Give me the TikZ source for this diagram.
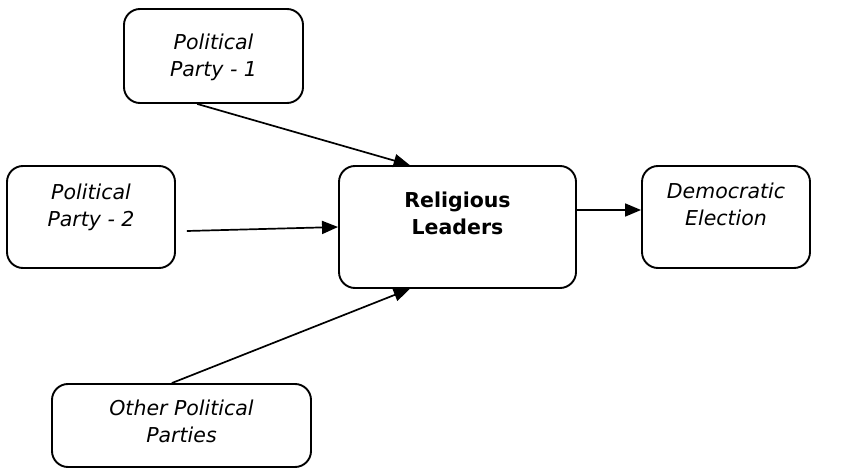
\documentclass[tikz,border=0pt]{standalone}
\usepackage{fontspec}
\setmainfont{DejaVu Sans}
\usetikzlibrary{arrows.meta, positioning, calc}

\begin{document}
\begin{tikzpicture}[x=1pt, y=-1pt,
    box/.style={draw, line width=1.9pt, rounded corners=16pt, align=center,
      font=\fontsize{20.5}{27}\selectfont\itshape, inner sep=0pt},
    flow/.style={-{Triangle[length=16pt, width=13pt]}, line width=1.7pt},
    lift/.style={text depth=#1}]
  \useasboundingbox (0,0) rectangle (850,470);

  % Partidos
  \node[box, minimum width=179pt, minimum height=94pt, lift=1pt] (party1) at (213.5,56) {Political\\Party - 1};
  \node[box, minimum width=168pt, minimum height=102pt, lift=23pt] (party2) at (91,217) {Political\\Party - 2};
  \node[box, minimum width=259pt, minimum height=83pt, lift=8pt] (others) at (181.5,425.5) {Other Political\\Parties};

  % Centro
  \node[box, minimum width=237pt, minimum height=122pt, lift=27pt, font=\fontsize{20.5}{27}\selectfont\bfseries] (leaders) at (457.5,227) {Religious\\Leaders};

  % Resultado
  \node[box, minimum width=168pt, minimum height=102pt, lift=25pt] (election) at (726,217) {Democratic\\Election};

  % Flechas
  \draw[flow] ($(party1.south west)!0.41!(party1.south east)$) -- ($(leaders.north west)!0.3!(leaders.north east)$);
  \draw[flow] ($(party2.east)+(11,14)$) -- (leaders.west);
  \draw[flow] ($(others.north west)!0.463!(others.north east)$) -- ($(leaders.south west)!0.3!(leaders.south east)$);
  \coordinate (out) at ($(leaders.east)+(0,-17)$);
  \draw[flow] (out) -- (election.west |- out);
\end{tikzpicture}
\end{document}
